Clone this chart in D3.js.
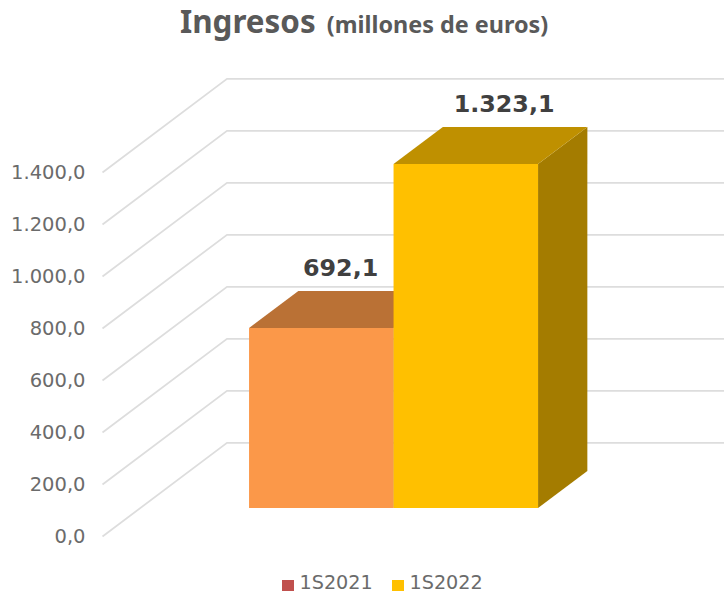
<!DOCTYPE html>
<html lang="es">
<head>
    <meta charset="UTF-8">
    <title>Ingresos</title>
    <script src="https://d3js.org/d3.v7.min.js"></script>
    <style>
        body { margin: 0; background: #fff; }
        svg { display: block; font-family: 'DejaVu Sans', sans-serif; }
    </style>
</head>
<body>
    <div id="chart"></div>
    <script>
    // data
    var series = ['1S2021', '1S2022'];
    var values = [692.1, 1323.1];
    var yTicks = [0, 200, 400, 600, 800, 1000, 1200, 1400];

    var width = 724, height = 594;

    // colours per series: front, top, side, legend swatch
    var frontColors = ['#FB9849', '#FFC000'];
    var topColors = ['#BA7135', '#BF9000'];
    var sideColors = ['#A06030', '#A47C00'];
    var legendColors = ['#C0504D', '#FFC000'];

    var locale = d3.formatLocale({ decimal: ',', thousands: '.', grouping: [3], currency: ['', '€'] });
    var fmt = locale.format(',.1f');

    var svg = d3.select('#chart').append('svg')
        .attr('width', width)
        .attr('height', height);

    // y on the front plane of the box, x in front plane coords
    var y = d3.scaleLinear().domain([0, 1400]).range([536.5, 172.5]);
    var x = d3.scaleBand().domain(series).range([211.2, 500.2]);

    // oblique projection: how far a point moves as it goes back in depth 0..1
    var depthX = d3.scaleLinear().domain([0, 1]).range([0, 124.5]);
    var depthY = d3.scaleLinear().domain([0, 1]).range([0, -93.7]);
    var barDepth = [0.304, 0.7];
    var wallLeft = 102.5, wallRight = 620;

    function pt(px, value, depth) {
        return [px + depthX(depth), y(value) + depthY(depth)];
    }
    var line = d3.line();

    // gridlines: side wall then back wall
    svg.append('g').selectAll('path')
        .data(yTicks)
        .enter().append('path')
        .attr('d', function (d) {
            return line([pt(wallLeft, d, 0), pt(wallLeft, d, 1), pt(wallRight, d, 1)]);
        })
        .attr('fill', 'none')
        .attr('stroke', '#DDDDDD')
        .attr('stroke-width', 1.75);

    // y axis, only the labels
    var yAxis = svg.append('g')
        .attr('transform', 'translate(' + wallLeft + ',0)')
        .call(d3.axisLeft(y).tickValues(yTicks).tickFormat(fmt).tickSize(0).tickPadding(17));
    yAxis.select('.domain').remove();
    yAxis.selectAll('text')
        .style('font-family', "'DejaVu Sans', sans-serif")
        .style('font-size', '19.5px')
        .style('fill', '#6B6B6B');

    // bars
    var bars = svg.append('g').selectAll('g')
        .data(series)
        .enter().append('g');

    function face(points) { return line(points) + 'Z'; }

    bars.append('path') // side
        .attr('d', function (d, i) {
            var r = x(d) + x.bandwidth();
            return face([pt(r, 0, barDepth[0]), pt(r, 0, barDepth[1]), pt(r, values[i], barDepth[1]), pt(r, values[i], barDepth[0])]);
        })
        .attr('fill', function (d, i) { return sideColors[i]; });

    bars.append('path') // top
        .attr('d', function (d, i) {
            var l = x(d), r = l + x.bandwidth();
            return face([pt(l, values[i], barDepth[0]), pt(r, values[i], barDepth[0]), pt(r, values[i], barDepth[1]), pt(l, values[i], barDepth[1])]);
        })
        .attr('fill', function (d, i) { return topColors[i]; });

    bars.append('path') // front
        .attr('d', function (d, i) {
            var l = x(d), r = l + x.bandwidth();
            return face([pt(l, 0, barDepth[0]), pt(r, 0, barDepth[0]), pt(r, values[i], barDepth[0]), pt(l, values[i], barDepth[0])]);
        })
        .attr('fill', function (d, i) { return frontColors[i]; });

    // value labels, moved by hand like in the original
    var labelNudge = [-30, -11];
    bars.append('text')
        .attr('x', function (d, i) { return pt(x(d) + x.bandwidth() / 2, values[i], barDepth[1])[0] + labelNudge[i]; })
        .attr('y', function (d, i) { return pt(0, values[i], barDepth[1])[1] - 14.5; })
        .attr('text-anchor', 'middle')
        .style('font-size', '23.8px')
        .style('font-weight', 'bold')
        .style('fill', '#404040')
        .text(function (d, i) { return fmt(values[i]); });

    // title
    var title = svg.append('text')
        .attr('x', 180)
        .attr('y', 33)
        .style('font-family', "'Noto Sans', sans-serif")
        .style('fill', '#595959')
        .style('font-weight', 'bold');
    title.append('tspan').style('font-size', '31.4px').text('Ingresos');
    title.append('tspan').attr('dx', 11).style('font-size', '23.4px').text('(millones de euros)');

    // legend
    var legendX = d3.scaleOrdinal().domain(series).range([282, 392]);
    var legend = svg.append('g').selectAll('g')
        .data(series)
        .enter().append('g')
        .attr('transform', function (d) { return 'translate(' + legendX(d) + ',580)'; });
    legend.append('rect')
        .attr('width', 12)
        .attr('height', 11)
        .attr('fill', function (d, i) { return legendColors[i]; });
    legend.append('text')
        .attr('x', 17.5)
        .attr('y', 9.4)
        .style('font-size', '19.2px')
        .style('fill', '#6B6B6B')
        .text(function (d) { return d; });
    </script>
</body>
</html>
